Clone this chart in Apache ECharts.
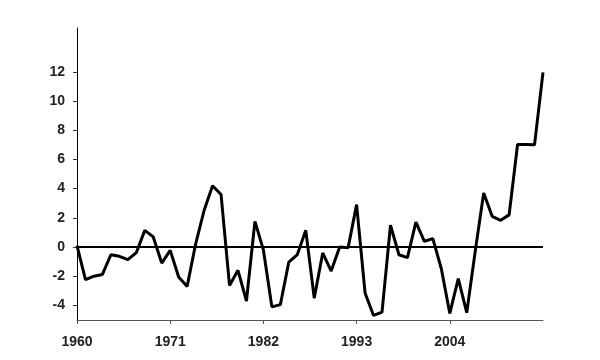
<!DOCTYPE html>
<html>
<head>
<meta charset="utf-8">
<script src="https://cdn.jsdelivr.net/npm/echarts@6/dist/echarts.min.js"></script>
<style>html,body{margin:0;padding:0;background:#fff}#c{width:600px;height:360px}</style>
</head>
<body>
<div id="c"></div>
<script>
const years = [];
for (let y = 1960; y <= 2015; y++) years.push(y);
const values = [
  0.1, -2.24, -2.0, -1.88, -0.53, -0.64, -0.87, -0.39, 1.14, 0.69,
  -1.1, -0.23, -2.06, -2.7, 0.2, 2.5, 4.2, 3.6, -2.63, -1.6,
  -3.7, 1.76, -0.2, -4.1, -3.95, -1.03, -0.53, 1.14, -3.5, -0.41,
  -1.65, 0.0, -0.05, 2.9, -3.15, -4.69, -4.46, 1.49, -0.53, -0.73,
  1.71, 0.39, 0.57, -1.49, -4.55, -2.17, -4.5, -0.3, 3.7, 2.1,
  1.83, 2.2, 7.02, 7.02, 7.0, 11.96
];
const yTickLabels = [-4, -2, 0, 2, 4, 6, 8, 10, 12];
const xTickLabels = [1960, 1971, 1982, 1993, 2004];

const chart = echarts.init(document.getElementById('c'), null, {renderer: 'canvas'});
chart.setOption({
  animation: false,
  backgroundColor: '#fff',
  grid: {left: 77, right: 57, top: 28, bottom: 40, containLabel: false},
  xAxis: {
    type: 'value', min: 1960, max: 2015, interval: 11,
    axisLine: {show: true, onZero: false, lineStyle: {color: '#555', width: 1}},
    axisTick: {show: true, length: 4, customValues: xTickLabels, lineStyle: {color: '#555'}},
    splitLine: {show: false},
    axisLabel: {
      margin: 15, color: '#222', fontFamily: 'Liberation Sans, Arial, sans-serif',
      fontWeight: 'bold', fontSize: 14, customValues: xTickLabels,
      formatter: v => String(v)
    }
  },
  yAxis: {
    type: 'value', min: -5, max: 15, interval: 1,
    axisLine: {show: true, lineStyle: {color: '#000', width: 1}},
    axisTick: {show: true, length: 4, customValues: yTickLabels, lineStyle: {color: '#333'}},
    splitLine: {show: false},
    axisLabel: {
      margin: 12, color: '#222', fontFamily: 'Liberation Sans, Arial, sans-serif',
      fontWeight: 'bold', fontSize: 14, customValues: yTickLabels,
      formatter: v => String(v)
    }
  },
  series: [{
    type: 'line',
    data: years.map((y, i) => [y, values[i]]),
    symbol: 'none',
    lineStyle: {color: '#000', width: 3},
    markLine: {
      silent: true, symbol: 'none', label: {show: false},
      lineStyle: {color: '#000', width: 2, type: 'solid'},
      data: [{yAxis: 0}]
    }
  }]
});
</script>
</body>
</html>
